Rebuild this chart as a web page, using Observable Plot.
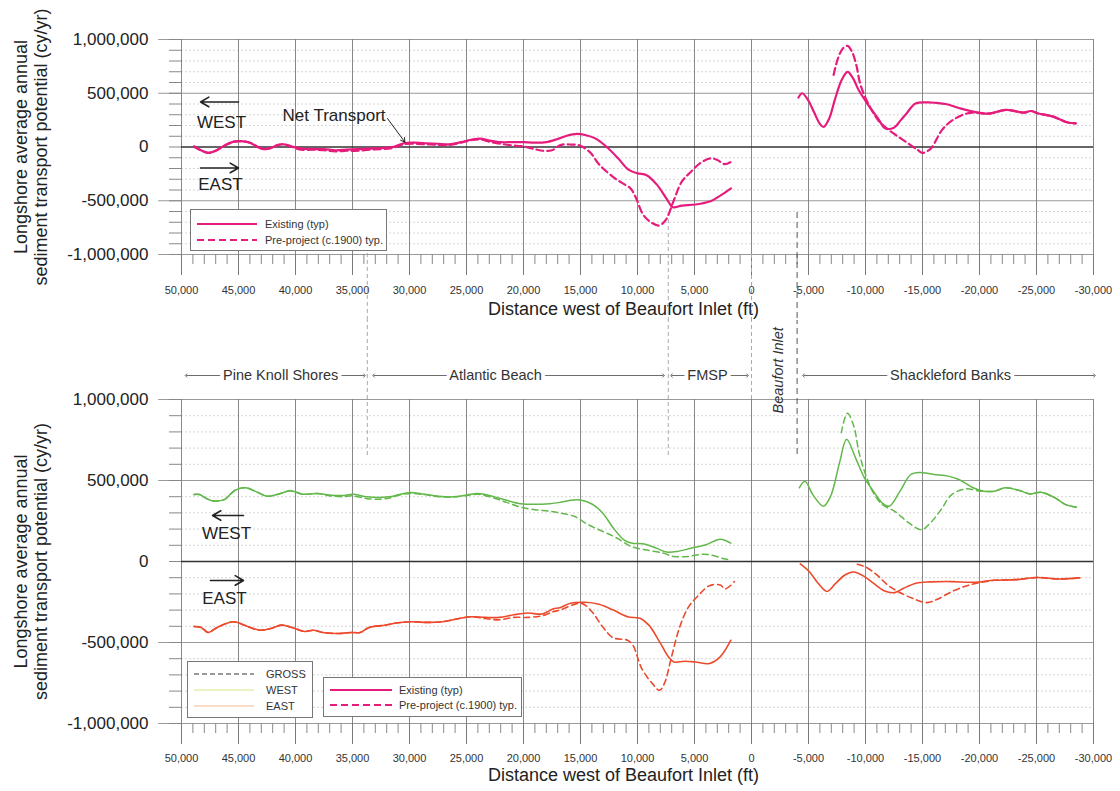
<!DOCTYPE html>
<html><head><meta charset="utf-8">
<script src="https://cdn.jsdelivr.net/npm/d3@7"></script>
<script src="https://cdn.jsdelivr.net/npm/@observablehq/plot@0.6"></script>
<style>
body{margin:0;background:#fff;font-family:"Liberation Sans",Arial,sans-serif;}
#wrap{position:relative;width:1120px;height:791px;overflow:hidden;background:#fff;}
#top,#bottom{position:absolute;left:0;}
#top{top:0;} #bottom{top:320px;}
.legend{position:absolute;background:#fff;border:1px solid #777;box-sizing:border-box;}
.legend .item{position:absolute;height:14px;display:flex;align-items:center;font-size:11px;color:#333;white-space:nowrap;}
.legend svg{display:block;}
</style></head><body>
<div id="wrap"><div id="top"></div><div id="bottom"></div></div>
<script>
// ---------- DATA (ft west of Beaufort Inlet, thousand cy/yr) ----------
const topExistingWest = [[48900,5],[48300,-30],[47650,-55],[47000,-35],[46200,15],[45400,50],[44800,55],[44000,40],[43300,0],[42800,-20],[42200,-10],[41500,20],[41000,25],[40300,5],[39500,-15],[38500,-20],[37500,-20],[36500,-30],[35500,-25],[34500,-20],[33500,-15],[32500,-10],[31500,0],[30500,35],[29500,40],[28500,35],[27500,30],[26500,25],[25500,45],[24500,70],[23800,78],[23000,60],[22000,45],[21000,45],[20000,45],[19000,40],[18000,45],[17000,75],[16200,105],[15300,122],[14600,112],[13700,80],[12700,0],[11700,-105],[10800,-210],[10000,-245],[9200,-262],[8300,-350],[7400,-490],[6900,-560],[6100,-545],[4900,-535],[3600,-505],[2700,-450],[1800,-385]];
const topPreWest = [[48900,5],[48300,-30],[47650,-55],[47000,-35],[46200,15],[45400,50],[44800,55],[44000,40],[43300,0],[42800,-20],[42200,-10],[41500,20],[41000,25],[40300,0],[39500,-25],[38500,-25],[37500,-30],[36500,-40],[35500,-35],[34500,-35],[33500,-25],[32500,-20],[31500,-10],[30500,25],[29500,30],[28500,25],[27500,20],[26500,20],[25500,40],[24500,65],[23800,70],[23000,50],[22000,30],[21000,15],[20000,5],[19000,-20],[18300,-35],[17500,-30],[16700,20],[15800,22],[15100,15],[14200,-45],[13300,-170],[12000,-290],[11100,-350],[10600,-385],[10150,-470],[9500,-630],[8750,-705],[8100,-730],[7500,-675],[6900,-520],[6100,-320],[5300,-230],[4500,-150],[3600,-105],[3000,-120],[2350,-160],[1750,-135]];
const topExistingEast = [[-4120,460],[-4450,500],[-5000,430],[-5500,320],[-6000,215],[-6320,186],[-6800,260],[-7340,450],[-7900,620],[-8420,698],[-8900,640],[-9400,530],[-10160,404],[-11100,266],[-11720,175],[-12500,180],[-13100,250],[-13600,312],[-14380,404],[-15470,415],[-16200,410],[-17030,400],[-18280,360],[-19840,320],[-20800,310],[-22340,345],[-23900,320],[-24500,335],[-25160,312],[-26400,285],[-27660,230],[-28440,220]];
const topPreEast = [[-7200,670],[-7600,830],[-8000,915],[-8420,940],[-8800,890],[-9200,760],[-9530,590],[-10160,420],[-11100,251],[-12030,159],[-13280,67],[-14530,-24],[-15000,-55],[-15400,-40],[-15780,-9],[-16720,159],[-17660,251],[-18900,312],[-19840,320],[-20800,310],[-22340,345],[-23900,320],[-24500,335],[-25160,312],[-26400,285],[-27660,230],[-28440,220]];

const westExistingW = [[48900,413],[48430,413],[47700,385],[47180,374],[46240,382],[45300,440],[44360,455],[43420,430],[42480,403],[41540,415],[40440,436],[39350,415],[38100,419],[36840,409],[35900,407],[34960,415],[33710,399],[31830,399],[30890,413],[29950,426],[28700,415],[27440,403],[26190,399],[24940,411],[24000,419],[22740,403],[21490,378],[20240,357],[18990,353],[17730,357],[16810,365],[15875,378],[15000,380],[14000,355],[13060,300],[12125,207],[11190,134],[10560,114],[9310,107],[8375,83],[7440,58],[6500,62],[5250,83],[4000,103],[2750,138],[1810,114]];
const westPreW = [[48900,413],[48430,413],[47700,385],[47180,374],[46240,382],[45300,440],[44360,455],[43420,430],[42480,403],[41540,415],[40440,436],[39350,415],[38100,419],[36840,405],[35900,400],[34960,405],[33710,388],[32500,385],[31830,390],[30890,410],[29950,420],[28700,413],[27440,400],[26190,397],[24940,408],[24000,415],[22740,395],[21490,365],[20240,335],[18990,320],[17730,310],[16810,300],[15560,279],[14310,227],[13060,186],[11810,145],[10560,93],[9310,72],[7750,52],[6810,31],[5560,31],[4310,45],[3375,37],[2440,17],[1810,10]];
const eastExistingW = [[48900,-401],[48280,-407],[47650,-438],[46870,-407],[45460,-372],[44360,-397],[43110,-424],[42170,-413],[41230,-393],[40300,-407],[39190,-432],[38410,-424],[37630,-438],[36220,-444],[35120,-438],[34330,-438],[33550,-407],[32140,-393],[31200,-380],[29950,-372],[28380,-376],[27130,-372],[25880,-355],[24630,-341],[23370,-345],[22120,-345],[20860,-329],[19610,-318],[18360,-324],[17420,-293],[16810,-285],[15875,-258],[14625,-252],[13375,-264],[12125,-300],[10875,-341],[9780,-351],[9000,-393],[8060,-496],[7280,-589],[6810,-620],[5875,-616],[4940,-620],[3690,-630],[2750,-589],[1810,-486]];
const eastPreW = [[48900,-401],[48280,-407],[47650,-438],[46870,-407],[45460,-372],[44360,-397],[43110,-424],[42170,-413],[41230,-393],[40300,-407],[39190,-432],[38410,-424],[37630,-438],[36220,-444],[35120,-438],[34330,-438],[33550,-407],[32140,-393],[31200,-380],[29950,-372],[28380,-376],[27130,-372],[25880,-355],[24630,-341],[23370,-352],[22120,-360],[20860,-345],[19610,-345],[18360,-335],[17420,-310],[16810,-300],[14940,-258],[14000,-310],[13060,-403],[12125,-471],[10875,-486],[10400,-517],[9625,-661],[8690,-754],[8060,-795],[7590,-744],[7125,-620],[6340,-413],[5560,-285],[4625,-207],[3690,-149],[2750,-145],[2280,-169],[1500,-124]];
const westExistingE = [[-4190,455],[-4690,496],[-5375,413],[-6310,341],[-6940,403],[-7720,609],[-8340,755],[-9125,640],[-9910,516],[-10690,434],[-11470,361],[-12090,341],[-13030,434],[-13970,537],[-14750,550],[-16000,537],[-17250,527],[-18190,506],[-19440,455],[-20375,434],[-21310,434],[-22250,455],[-23500,438],[-24440,417],[-25375,428],[-26625,393],[-27560,351],[-28500,335]];
const westPreE = [[-7875,795],[-8410,915],[-8970,837],[-9440,671],[-10060,527],[-10690,424],[-11470,351],[-12560,310],[-13810,238],[-14900,196],[-15690,238],[-16625,320],[-17560,413],[-18810,448],[-20060,434],[-21310,434],[-22250,455],[-23500,438],[-24440,417],[-25375,428],[-26625,393],[-27560,351],[-28500,335]];
const eastExistingE = [[-4280,-15],[-5060,-62],[-5840,-134],[-6625,-185],[-7400,-134],[-8190,-83],[-8970,-65],[-9900,-93],[-10690,-134],[-11625,-180],[-12560,-192],[-13340,-165],[-14440,-134],[-15690,-126],[-17560,-124],[-19440,-128],[-21310,-116],[-23190,-112],[-25060,-99],[-26940,-108],[-28810,-101]];
const eastPreE = [[-9280,-17],[-10060,-35],[-11000,-83],[-11940,-145],[-12875,-186],[-14125,-227],[-15375,-254],[-16310,-233],[-17560,-186],[-18810,-151],[-19750,-134],[-21310,-116],[-23190,-112],[-25060,-99],[-26940,-108],[-28810,-101]];

const xMajorTicks = [50000,45000,40000,35000,30000,25000,20000,15000,10000,5000,0,-5000,-10000,-15000,-20000,-25000,-30000];
const yLabelTicks = [1000000,500000,0,-500000,-1000000];
const yMajorGrid = [1000000,500000,-500000,-1000000];
const regionNames = ["Pine Knoll Shores","Atlantic Beach","FMSP","Shackleford Banks"];
const regionStart = [49600,33150,7020,-4560];
const regionEnd = [33950,7720,350,-30090];
const regionLabelX = [41300,22450,3860,-17460];
const boundaryFt = [33700,7300,0];
const inletBoundaryFt = [-4000];
const xTitle = "Distance west of Beaufort Inlet (ft)";
const yTitle = "Longshore average annual\nsediment transport potential (cy/yr)";

// ---------- STYLE ----------
const MAGENTA = "#e61c7d", GREEN = "#62b84a", RED = "#ec4a2c";
const FONT = "Liberation Sans, Arial, sans-serif";
const toCY = arr => arr.map(([x, v]) => [x, v * 1000]);
const fmt = d => (d < 0 ? "-" : "") + d3.format(",")(Math.abs(d));
const xMinorTicks = d3.range(-30000, 50001, 1000).filter(d => d % 5000 !== 0);
const yMinorTicks = d3.range(-1000000, 1000001, 100000);

function frameMarks(o) {
  return [
    Plot.gridY(yMinorTicks.filter(d => d % 500000 !== 0), {stroke: "#d6d6d6", strokeOpacity: 1, strokeDasharray: "2,2"}),
    Plot.ruleY(yMajorGrid, {x1: 52000, x2: -30000, stroke: "#9a9a9a"}),
    Plot.gridX(xMajorTicks, {stroke: "#7a7a7a", strokeOpacity: 1, strokeWidth: 0.9}),
    Plot.axisX(xMinorTicks, {tickSize: 10, tickFormat: () => "", stroke: "#888", label: null}),
    Plot.axisX(xMajorTicks, {tickSize: 21, tickPadding: o.tickPadding, tickFormat: fmt, fontSize: 11, label: null, stroke: "#7a7a7a", fill: "#333"}),
    Plot.axisY(yMinorTicks, {tickSize: 12, tickFormat: () => "", label: null, stroke: "#888"}),
    Plot.axisY(yLabelTicks, {tickSize: 0, tickPadding: 33, tickFormat: fmt, fontSize: 17, label: null, fill: "#222"}),
    Plot.ruleY([0], {x1: 50000, x2: -30000, stroke: "#333", strokeWidth: 1.5}),
    Plot.text([xTitle], {frameAnchor: "bottom", textAnchor: "middle", dy: o.titleDy, dx: -14, fontSize: 18, fill: "#222"}),
    Plot.text([yTitle], {frameAnchor: "left", textAnchor: "middle", lineAnchor: "middle", dx: -151, rotate: -90, fontSize: 18, lineHeight: 1.12, fill: "#222"})
  ];
}
function boundaryMarks(y1, y2, y1Inlet, y2Inlet) {
  return [
    Plot.ruleX(boundaryFt, {x: d => d, y1, y2, stroke: "#aaa", strokeDasharray: "4,3", strokeWidth: 1}),
    Plot.ruleX(inletBoundaryFt, {x: d => d, y1: y1Inlet, y2: y2Inlet, stroke: "#555", strokeDasharray: "6,4", strokeWidth: 1})
  ];
}

// ---------- TOP PANEL ----------
const topBoundaryY1 = [-990000, -610000, -1000000];
const topPlot = Plot.plot({
  width: 1120, height: 320, marginLeft: 181, marginRight: 27, marginTop: 39, marginBottom: 66,
  x: {domain: [50000, -30000]}, y: {domain: [-1000000, 1000000]},
  style: {fontFamily: FONT, background: "transparent"},
  marks: [
    ...frameMarks({tickPadding: 11, titleDy: 60}),
    ...boundaryMarks((d, i) => topBoundaryY1[i], -1620000, -610000, -1620000),
    Plot.line(toCY(topExistingWest), {stroke: MAGENTA, strokeWidth: 2.2, curve: "catmull-rom"}),
    Plot.line(toCY(topPreWest), {stroke: MAGENTA, strokeWidth: 2.2, strokeDasharray: "7,4", curve: "catmull-rom"}),
    Plot.line(toCY(topExistingEast), {stroke: MAGENTA, strokeWidth: 2.2, curve: "catmull-rom"}),
    Plot.line(toCY(topPreEast), {stroke: MAGENTA, strokeWidth: 2.2, strokeDasharray: "7,4", curve: "catmull-rom"}),
    Plot.text(["WEST", "EAST"], {x: [46490, 46580], y: [232000, -353000], text: d => d, fontSize: 17, fill: "#222"}),
    Plot.arrow([0, 1], {x1: [45000, 48330], x2: [48330, 45000], y1: [419000, -195000], y2: [419000, -195000], stroke: "#222", strokeWidth: 1.6, headLength: 9}),
    Plot.text(["Net Transport"], {x: [32100], y: [288000], textAnchor: "end", fontSize: 17, fill: "#222"}),
    Plot.arrow([0], {x1: [31930], y1: [265000], x2: [30400], y2: [45000], stroke: "#222", strokeWidth: 1, headLength: 7})
  ]
});
document.getElementById("top").appendChild(topPlot);

// ---------- BOTTOM PANEL ----------
const bottomBoundaryY2 = [640000, 640000, 1000000];
const regionY = 1148000;
const bottomPlot = Plot.plot({
  width: 1120, height: 471, marginLeft: 181, marginRight: 27, marginTop: 79, marginBottom: 68,
  x: {domain: [50000, -30000]}, y: {domain: [-1000000, 1000000]},
  style: {fontFamily: FONT, background: "transparent"},
  marks: [
    ...frameMarks({tickPadding: 10, titleDy: 57}),
    ...boundaryMarks(1500000, (d, i) => bottomBoundaryY2[i], 1500000, 640000),
    Plot.link(regionNames, {x1: (d, i) => regionStart[i], x2: (d, i) => regionEnd[i], y1: regionY, y2: regionY,
      stroke: "#444", strokeWidth: 0.8, markerStart: "arrow-reverse", markerEnd: "arrow"}),
    Plot.text(regionNames, {x: (d, i) => regionLabelX[i], y: regionY, text: d => d, fontSize: 14.5, fill: "#333", stroke: "white", strokeWidth: 8}),
    Plot.text(["Beaufort Inlet"], {x: [-2370], y: [914000], rotate: -90, textAnchor: "start", fontStyle: "italic", fontSize: 14.5, fill: "#333"}),
    Plot.line(toCY(westExistingW), {stroke: GREEN, strokeWidth: 1.5, curve: "catmull-rom"}),
    Plot.line(toCY(westPreW), {stroke: GREEN, strokeWidth: 1.5, strokeDasharray: "6,4", curve: "catmull-rom"}),
    Plot.line(toCY(westExistingE), {stroke: GREEN, strokeWidth: 1.5, curve: "catmull-rom"}),
    Plot.line(toCY(westPreE), {stroke: GREEN, strokeWidth: 1.5, strokeDasharray: "6,4", curve: "catmull-rom"}),
    Plot.line(toCY(eastExistingW), {stroke: RED, strokeWidth: 1.6, curve: "catmull-rom"}),
    Plot.line(toCY(eastPreW), {stroke: RED, strokeWidth: 1.6, strokeDasharray: "6,4", curve: "catmull-rom"}),
    Plot.line(toCY(eastExistingE), {stroke: RED, strokeWidth: 1.6, curve: "catmull-rom"}),
    Plot.line(toCY(eastPreE), {stroke: RED, strokeWidth: 1.6, strokeDasharray: "6,4", curve: "catmull-rom"}),
    Plot.text(["WEST", "EAST"], {x: [46050, 46230], y: [173000, -228000], text: d => d, fontSize: 17, fill: "#222"}),
    Plot.arrow([0, 1], {x1: [44560, 47460], x2: [47280, 44560], y1: [284000, -117000], y2: [284000, -117000], stroke: "#222", strokeWidth: 1.6, headLength: 9})
  ]
});
document.getElementById("bottom").appendChild(bottomPlot);

// ---------- LEGENDS (HTML overlays) ----------
const topLegend = [{label: "Existing (typ)", color: MAGENTA, dash: null, w: 2.2}, {label: "Pre-project (c.1900) typ.", color: MAGENTA, dash: "7,4", w: 2.2}];
const grossLegend = [{label: "GROSS", color: "#333", dash: "5,3", w: 1.2}, {label: "WEST", color: "#d6e88a", dash: null, w: 1.2}, {label: "EAST", color: "#f2b98f", dash: null, w: 1.2}];
function legend(items, box, rows, lineLeft, lineW, gap) {
  const div = document.createElement("div");
  div.className = "legend";
  Object.assign(div.style, {left: box[0] + "px", top: box[1] + "px", width: box[2] + "px", height: box[3] + "px"});
  items.forEach((it, i) => {
    const row = document.createElement("div");
    row.className = "item";
    row.style.left = lineLeft + "px";
    row.style.top = rows[i] + "px";
    row.innerHTML = `<svg width="${lineW}" height="6" style="margin-right:${gap}px"><line x1="0" y1="3" x2="${lineW}" y2="3" stroke="${it.color}" stroke-width="${it.w}" ${it.dash ? `stroke-dasharray="${it.dash}"` : ""}/></svg><span>${it.label}</span>`;
    div.appendChild(row);
  });
  document.getElementById("wrap").appendChild(div);
}
legend(topLegend, [190, 209, 197, 42], [7, 23], 6, 60, 8);
legend(grossLegend, [187, 661, 126, 57], [5, 21, 37], 6, 60, 12);
legend(topLegend, [323, 677, 199, 40], [5, 20], 6, 62, 7);
</script></body></html>
